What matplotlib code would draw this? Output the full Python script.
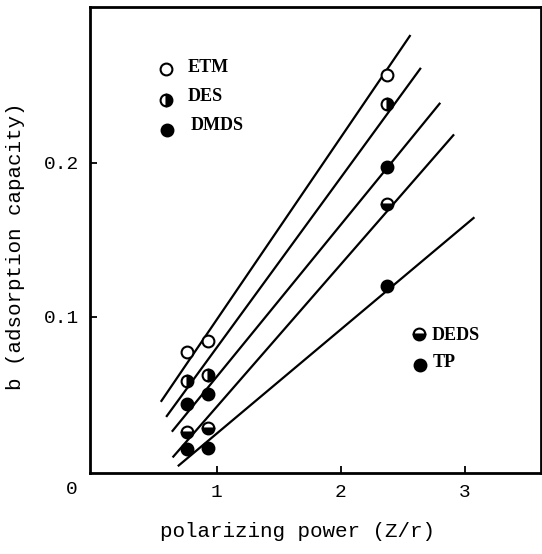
import matplotlib
matplotlib.use("Agg")
import matplotlib.pyplot as plt

# ---- data ----
x_vals = [0.76, 0.93, 2.37]
series_names = ["ETM", "DES", "DMDS", "DEDS", "TP"]
etm = [0.077, 0.084, 0.257]
des = [0.058, 0.062, 0.238]
dmds = [0.043, 0.050, 0.197]
deds = [0.025, 0.028, 0.173]
tp = [0.014, 0.015, 0.120]

# fitted straight lines (start/end x and y)
line_x = [(0.55, 2.56), (0.593, 2.644), (0.639, 2.80), (0.645, 2.911), (0.687, 3.075)]
line_y = [(0.0447, 0.2828), (0.0349, 0.2615), (0.0253, 0.2388), (0.0086, 0.2183), (0.0029, 0.1645)]

x_ticks = [1, 2, 3]
x_ticklabels = ["1", "2", "3"]
y_ticks = [0.1, 0.2]
y_ticklabels = ["0.1", "0.2"]

# ---- figure ----
fig = plt.figure(figsize=(5.42, 5.54), dpi=100)
ax = fig.add_axes([90/542, 1-473/554, 451/542, 466/554])
ax.set_xlim(-0.02, 3.611)
ax.set_ylim(-0.0015, 0.301)

mono = "Liberation Mono"
serif = "Liberation Serif"

data = [etm, des, dmds, deds, tp]
styles = [
    dict(marker="o", markerfacecolor="white", markeredgecolor="black", fillstyle="full"),
    dict(marker="o", markerfacecolor="black", markerfacecoloralt="white", markeredgecolor="black", fillstyle="right"),
    dict(marker="o", markerfacecolor="black", markeredgecolor="black", fillstyle="full"),
    dict(marker="o", markerfacecolor="black", markerfacecoloralt="white", markeredgecolor="black", fillstyle="bottom"),
    dict(marker="o", markerfacecolor="black", markeredgecolor="black", fillstyle="full"),
]

for (lx, ly) in zip(line_x, line_y):
    ax.plot(lx, ly, color="black", lw=1.6, solid_capstyle="butt", zorder=2)

for yv, st in zip(data, styles):
    ax.plot(x_vals, yv, linestyle="none", markersize=8.5, markeredgewidth=1.5, zorder=3, **st)

# legend-like labels
leg_pos = [
    ((0.1687, 0.8676), (0.216, 0.8706)),
    ((0.1687, 0.7996), (0.216, 0.8086)),
    ((0.1716, 0.7352), (0.2222, 0.7466)),
    ((0.730, 0.2981), (0.7574, 0.2942)),
    ((0.7308, 0.2322), (0.759, 0.2361)),
]
for name, st, (mpos, tpos) in zip(series_names, styles, leg_pos):
    ax.plot([mpos[0]], [mpos[1]], transform=ax.transAxes, linestyle="none",
            markersize=8.5, markeredgewidth=1.5, clip_on=False, **st)
    ax.text(tpos[0], tpos[1], name, transform=ax.transAxes, ha="left", va="center",
            fontsize=13, fontweight="bold", family=serif)

# ticks
ax.set_xticks(x_ticks)
ax.set_xticklabels(x_ticklabels, family=mono, fontsize=14)
ax.set_yticks(y_ticks)
ax.set_yticklabels(y_ticklabels, family=mono, fontsize=14)
ax.tick_params(direction="in", length=5, width=1.3, pad=8)
ax.text(-0.04, -0.035, "0", transform=ax.transAxes, ha="center", va="center",
        family=mono, fontsize=14)

for s in ax.spines.values():
    s.set_linewidth(2.0)

ax.set_xlabel("polarizing power (Z/r)", family=mono, fontsize=15)
ax.set_ylabel("b (adsorption capacity)", family=mono, fontsize=15)
ax.xaxis.set_label_coords(0.4594, -0.105)
ax.yaxis.set_label_coords(-0.145, 0.4856)

fig.savefig("out.png", dpi=100)
